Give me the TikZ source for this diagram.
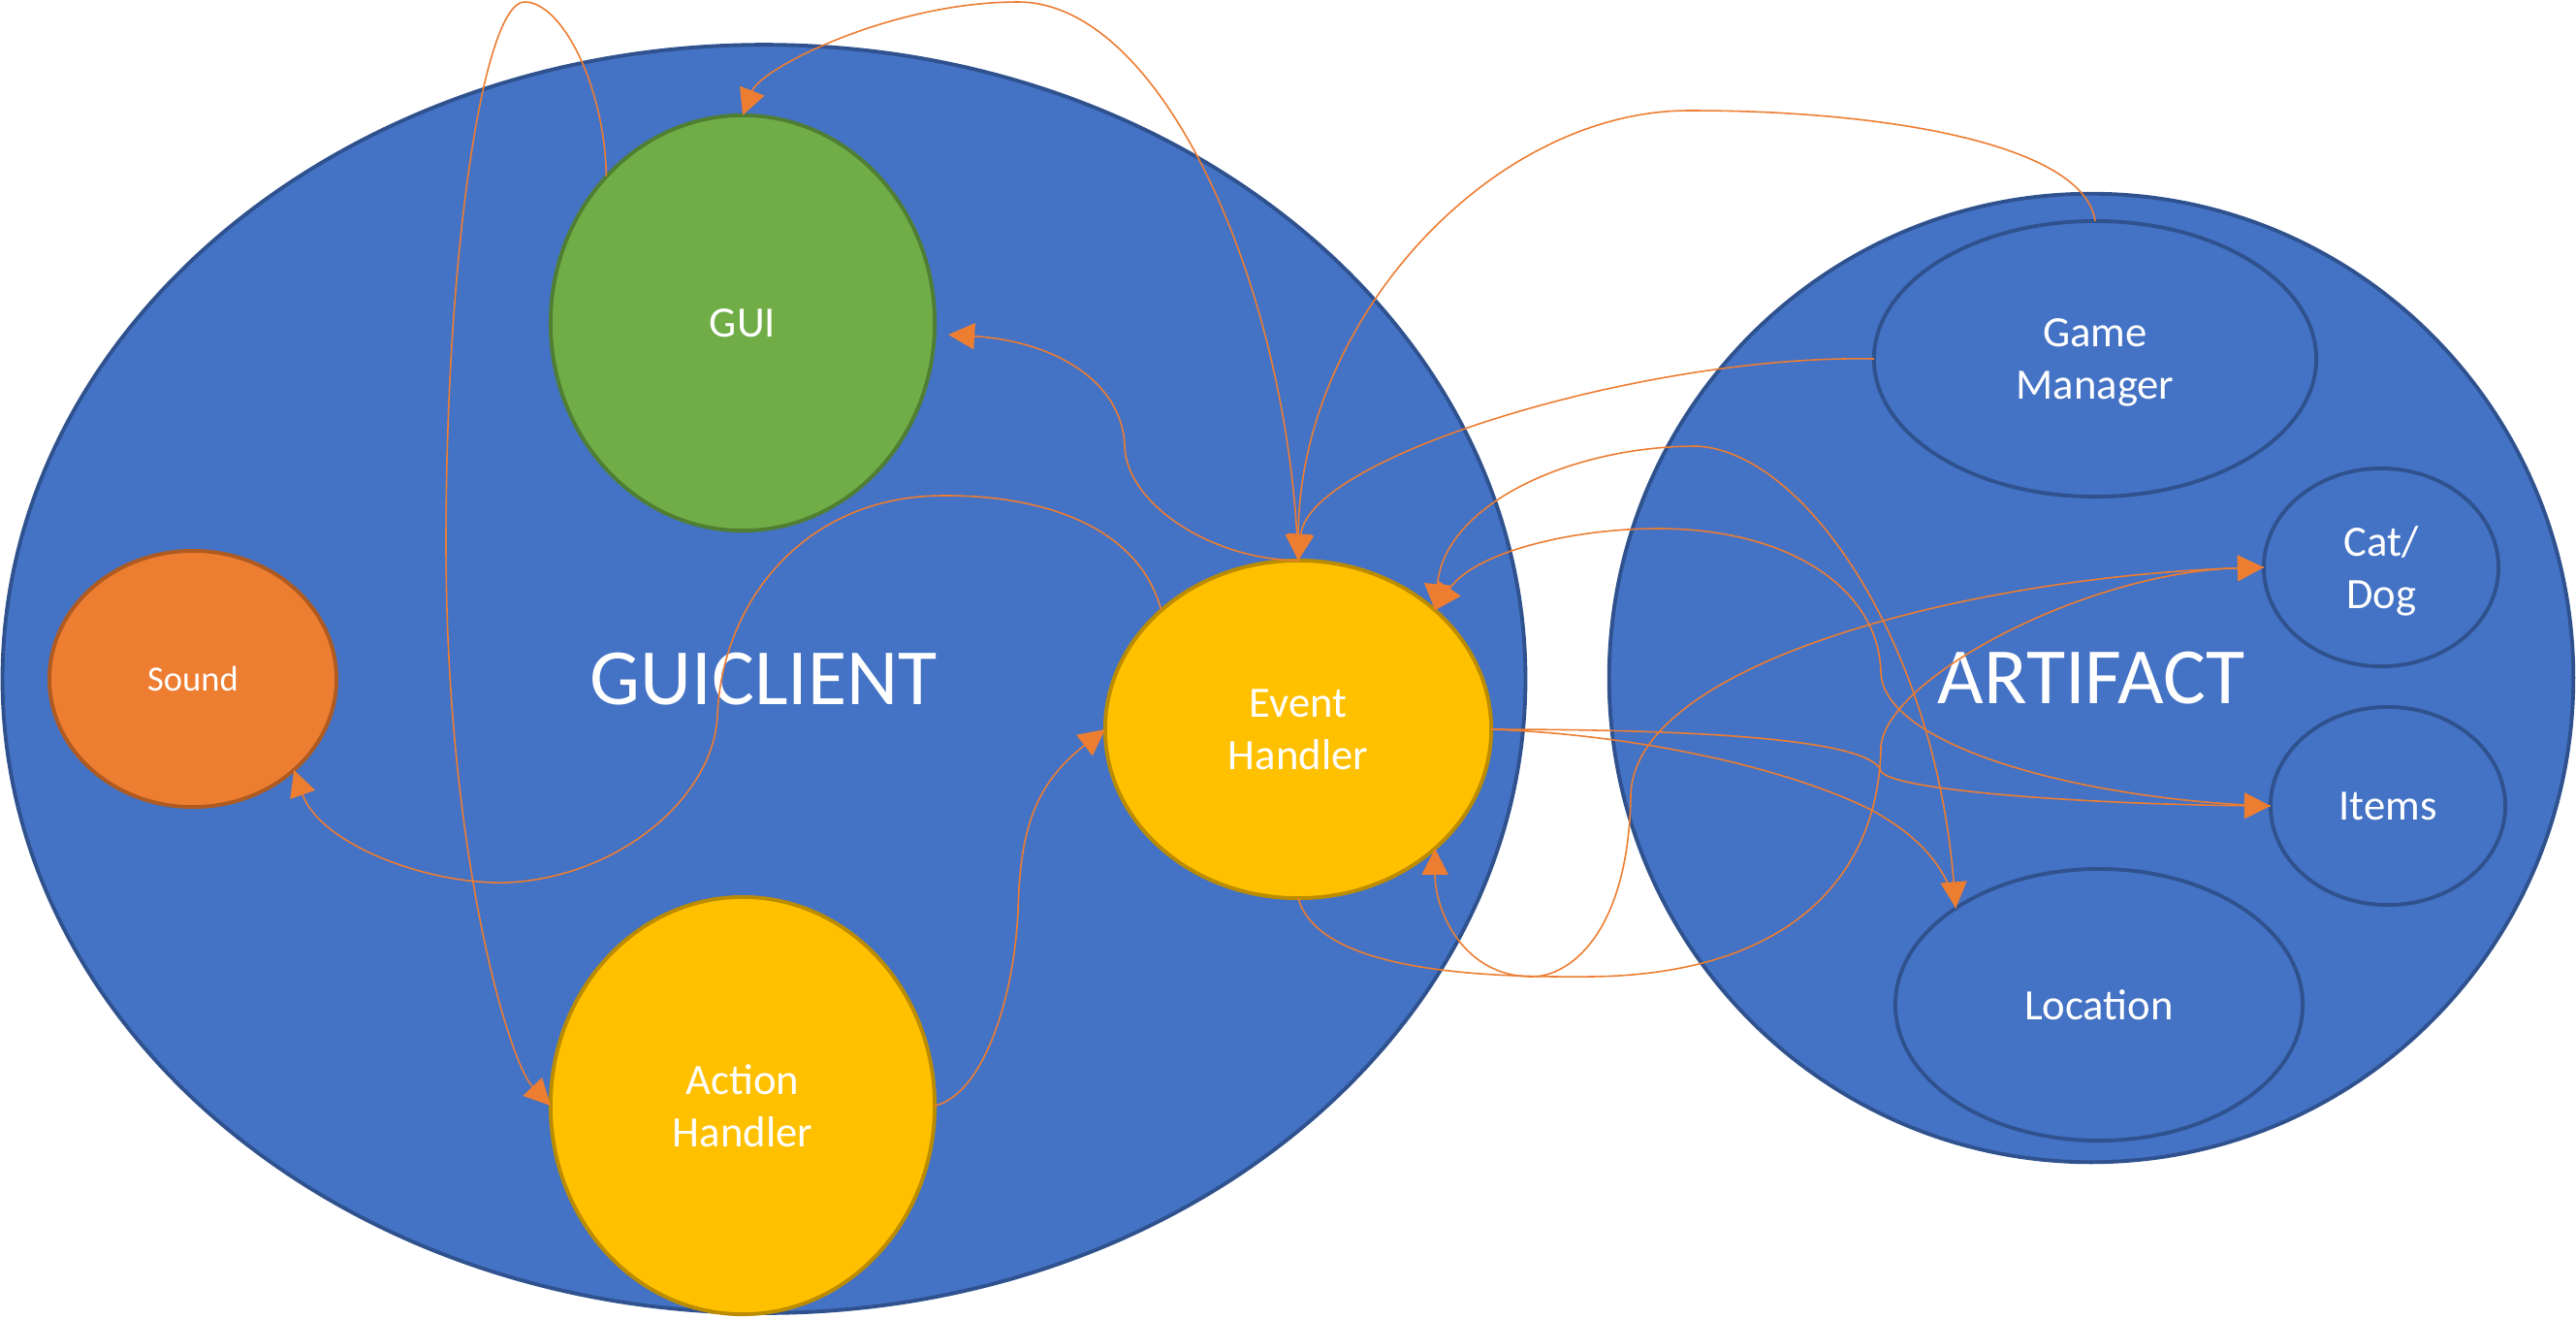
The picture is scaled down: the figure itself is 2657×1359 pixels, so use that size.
\documentclass[tikz,border=0pt]{standalone}
\usepackage{fontspec}
\setmainfont{Carlito}
\usetikzlibrary{shapes.geometric,arrows.meta}
\definecolor{ublue}{HTML}{4472C4}
\definecolor{ubluedk}{HTML}{2F528F}
\definecolor{ugreen}{HTML}{70AD47}
\definecolor{ugreendk}{HTML}{507E32}
\definecolor{uorange}{HTML}{ED7D31}
\definecolor{uorangedk}{HTML}{AE5A21}
\definecolor{ugold}{HTML}{FFC000}
\definecolor{ugolddk}{HTML}{BC8C00}
\newcommand{\mylbl}{\fontsize{12.7pt}{15.4pt}\selectfont}
\newcommand{\mybig}{\fontsize{23.4pt}{28pt}\selectfont}
\newcommand{\mysmall}{\fontsize{10.4pt}{12.5pt}\selectfont}
\tikzset{
  ell/.style={ellipse, line width=1.1pt, inner sep=0pt, outer sep=0pt, text=white, align=center, font=\mylbl},
  blueel/.style={ell, fill=ublue, draw=ubluedk},
  greenel/.style={ell, fill=ugreen, draw=ugreendk},
  orangeel/.style={ell, fill=uorange, draw=uorangedk},
  goldel/.style={ell, fill=ugold, draw=ugolddk},
  conn/.style={draw=uorange, line width=0.45pt},
  hd/.style={-{Triangle[length=7.7pt,width=7.7pt]}},
  hdboth/.style={{Triangle[length=7.7pt,width=7.7pt]}-{Triangle[length=7.7pt,width=7.7pt]}},
  hdstart/.style={{Triangle[length=7.7pt,width=7.7pt]}-}
}
\begin{document}
\begin{tikzpicture}[x=0.01cm,y=-0.01cm]
\fill[white] (0,0) rectangle (2657,1359);
\useasboundingbox (0,0) rectangle (2657,1359);
% containers
\node[blueel, minimum width=157mm, minimum height=130.7mm, font=\mybig] (gc) at (788,700) {GUICLIENT};
\node[blueel, minimum width=99.4mm, minimum height=99.8mm, font=\mybig] (art) at (2157,699) {ARTIFACT};
% GUICLIENT parts
\node[greenel, minimum width=39.6mm, minimum height=42.8mm] (gui) at (766,333) {GUI};
\node[orangeel, minimum width=29.6mm, minimum height=26.4mm, font=\mysmall] (snd) at (199,700) {Sound};
\node[goldel, minimum width=39.6mm, minimum height=43mm] (ah) at (766,1140) {Action\\Handler};
\node[goldel, minimum width=39.8mm, minimum height=34.8mm] (eh) at (1339,752) {Event\\Handler};
% ARTIFACT parts
\node[blueel, minimum width=45.6mm, minimum height=28.4mm, text depth=0pt] (gm) at (2161,370) {Game\\Manager};
\node[blueel, minimum width=24.2mm, minimum height=20.4mm, text depth=0pt] (cd) at (2456,585) {Cat/\\Dog};
\node[blueel, minimum width=24.2mm, minimum height=20.4mm] (items) at (2463,831) {Items};
\node[blueel, minimum width=42mm, minimum height=28mm] (loc) at (2165,1036) {Location};
% connectors
\draw[conn,hd] (gui.133) .. controls (624,90) and (580,2) .. (541,2) .. controls (500,2) and (460,250) .. (460,560) .. controls (460,880) and (525,1095) .. (ah.west);
\draw[conn,hd] (eh.north) .. controls (1330,300) and (1200,2) .. (1050,2) .. controls (920,2) and (785,70) .. (gui.north);
\draw[conn,hd] (eh.north) .. controls (1250,577) and (1162,520) .. (1160,460) .. controls (1158,395) and (1090,352) .. ([shift={(14,12)}]gui.east);
\draw[conn,hd] (eh.139) .. controls (1175,545) and (1080,510) .. (971,511) .. controls (830,512) and (745,620) .. (740,737) .. controls (737,820) and (640,905) .. (522,910) .. controls (440,912) and (330,870) .. (snd.-42);
\draw[conn,hd] (ah.east) .. controls (1010,1130) and (1045,1040) .. (1050,940) .. controls (1052,860) and (1065,810) .. (eh.west);
\draw[conn,hd] (gm.north) .. controls (2150,150) and (1950,114) .. (1745,114) .. controls (1540,112) and (1340,330) .. (eh.north);
\draw[conn,hd] (gm.west) .. controls (1700,365) and (1350,470) .. (eh.north);
\draw[conn,hdboth] (eh.41) .. controls (1490,520) and (1620,460) .. (1750,460) .. controls (1860,465) and (1995,660) .. (loc.146);
\draw[conn,hdstart] (eh.41) .. controls (1520,570) and (1620,545) .. (1710,545) .. controls (1850,545) and (1938,610) .. (1940,693) .. controls (1942,770) and (2150,825) .. (items.west);
\draw[conn,hd] (eh.east) .. controls (1750,752) and (1930,762) .. (1940,795) .. controls (1950,815) and (2150,829) .. (items.west);
\draw[conn] (eh.east) .. controls (1700,758) and (1850,795) .. (1930,835) .. controls (1985,865) and (2010,900) .. (loc.146);
\draw[conn,hd] (eh.south) .. controls (1360,1000) and (1520,1008) .. (1640,1007) .. controls (1850,1005) and (1938,900) .. (1940,770) .. controls (1945,700) and (2150,590) .. (cd.west);
\draw[conn,hd] (cd.west) .. controls (2050,590) and (1685,680) .. (1682,820) .. controls (1680,960) and (1620,1007) .. (1580,1007) .. controls (1510,1007) and (1480,940) .. (eh.-41);
\end{tikzpicture}
\end{document}
